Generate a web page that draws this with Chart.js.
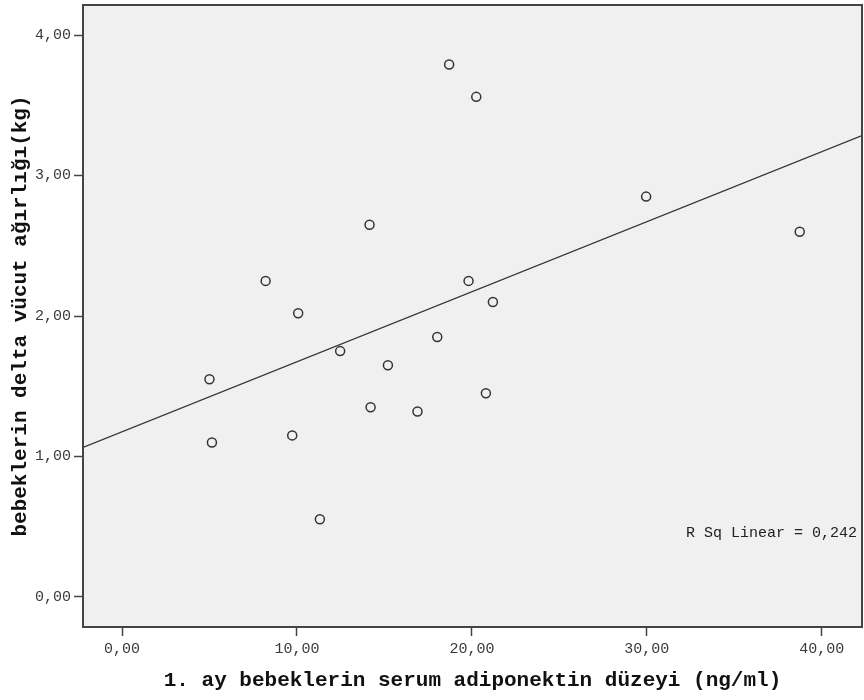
<!DOCTYPE html>
<html lang="tr">
<head>
<meta charset="UTF-8">
<title>Adiponektin - delta vücut ağırlığı</title>
<script src="https://cdn.jsdelivr.net/npm/chart.js"></script>
<style>
    html, body { margin: 0; padding: 0; background: #ffffff; }
    #chart { display: block; }
</style>
</head>
<body>
<canvas id="chart" width="864" height="700"></canvas>
<script>
    // values
    const adiponektin = [5.0, 5.14, 8.21, 9.73, 10.07, 11.31, 12.47, 14.15, 14.21, 15.2, 16.89, 18.02, 18.7, 19.81, 20.25, 20.8, 21.2, 29.96, 38.74];
    const deltaKilo   = [1.55, 1.10, 2.25, 1.15, 2.02, 0.553, 1.75, 2.65, 1.35, 1.65, 1.32, 1.85, 3.79, 2.25, 3.56, 1.45, 2.10, 2.85, 2.60];
    const xTicks = [0, 10, 20, 30, 40];
    const yTicks = [0, 1, 2, 3, 4];
    const xRange = [-2.23, 42.3];
    const yRange = [-0.214, 4.214];
    const xTitle = "1. ay bebeklerin serum adiponektin düzeyi (ng/ml)";
    const yTitle = "bebeklerin delta vücut ağırlığı(kg)";
    const fitLabel = "R Sq Linear = 0,242";

    const MONO = "'Liberation Mono', 'Courier New', monospace";
    const INK = '#3a3a3a';

    // least squares line through the points
    const n = adiponektin.length;
    const mx = adiponektin.reduce((a, b) => a + b, 0) / n;
    const my = deltaKilo.reduce((a, b) => a + b, 0) / n;
    let sxy = 0, sxx = 0;
    for (let i = 0; i < n; i++) {
        sxy += (adiponektin[i] - mx) * (deltaKilo[i] - my);
        sxx += (adiponektin[i] - mx) ** 2;
    }
    const slope = sxy / sxx;
    const intercept = my - slope * mx;
    const fitLine = xRange.map(x => ({ x: x, y: intercept + slope * x }));

    const points = adiponektin.map((x, i) => ({ x: x, y: deltaKilo[i] }));

    const fmt = v => v.toFixed(2).replace('.', ',');

    const plotFrame = {
        id: 'plotFrame',
        beforeDraw(chart) {
            const a = chart.chartArea;
            const ctx = chart.ctx;
            ctx.save();
            ctx.fillStyle = '#f0f0f0';
            ctx.fillRect(a.left, a.top, a.right - a.left, a.bottom - a.top);
            ctx.restore();
        },
        afterDraw(chart) {
            const a = chart.chartArea;
            const ctx = chart.ctx;
            ctx.save();
            ctx.strokeStyle = '#444';
            ctx.lineWidth = 2;
            ctx.strokeRect(a.left, a.top, a.right - a.left, a.bottom - a.top);
            // fit label, bottom right of the plot
            ctx.fillStyle = '#222';
            ctx.font = '15px ' + MONO;
            ctx.textAlign = 'right';
            ctx.textBaseline = 'middle';
            ctx.fillText(fitLabel, a.right - 5, chart.scales.y.getPixelForValue(0.455));
            ctx.restore();
        }
    };

    new Chart(document.getElementById('chart'), {
        type: 'scatter',
        data: {
            datasets: [
                {
                    label: 'gözlem',
                    data: points,
                    pointStyle: 'circle',
                    pointRadius: 4.5,
                    pointHoverRadius: 4.5,
                    pointBorderWidth: 1.5,
                    borderColor: '#333',
                    backgroundColor: 'rgba(0,0,0,0)'
                },
                {
                    type: 'line',
                    label: 'fit',
                    data: fitLine,
                    borderColor: '#333',
                    borderWidth: 1.3,
                    pointRadius: 0,
                    fill: false
                }
            ]
        },
        options: {
            responsive: false,
            animation: false,
            devicePixelRatio: 1,
            layout: { autoPadding: false, padding: { top: 5, right: 2, left: 0, bottom: 0 } },
            plugins: {
                legend: { display: false },
                tooltip: { enabled: false }
            },
            scales: {
                x: {
                    type: 'linear',
                    min: xRange[0],
                    max: xRange[1],
                    afterBuildTicks: s => { s.ticks = xTicks.map(v => ({ value: v })); },
                    afterFit: s => { s.height = 73; s.paddingLeft = 0; s.paddingRight = 0; },
                    grid: { drawOnChartArea: false, drawTicks: true, tickLength: 9, tickColor: '#444', tickWidth: 1.5 },
                    border: { display: true, color: '#444', width: 2 },
                    ticks: {
                        padding: 4,
                        color: INK,
                        font: { family: MONO, size: 15 },
                        callback: v => fmt(v)
                    },
                    title: {
                        display: true,
                        text: xTitle,
                        color: '#111',
                        padding: { top: 0, bottom: 7 },
                        font: { family: MONO, size: 21, weight: 'bold', lineHeight: 1.2 }
                    }
                },
                y: {
                    type: 'linear',
                    min: yRange[0],
                    max: yRange[1],
                    afterBuildTicks: s => { s.ticks = yTicks.map(v => ({ value: v })); },
                    afterFit: s => { s.width = 83; s.paddingTop = 0; s.paddingBottom = 0; },
                    grid: { drawOnChartArea: false, drawTicks: true, tickLength: 9, tickColor: '#444', tickWidth: 1.5 },
                    border: { display: true, color: '#444', width: 2 },
                    ticks: {
                        padding: 3,
                        color: INK,
                        font: { family: MONO, size: 15 },
                        callback: v => fmt(v)
                    },
                    title: {
                        display: true,
                        text: yTitle,
                        color: '#111',
                        padding: { top: 8, bottom: 0 },
                        font: { family: MONO, size: 21, weight: 'bold', lineHeight: 1.2 }
                    }
                }
            }
        },
        plugins: [plotFrame]
    });
</script>
</body>
</html>
